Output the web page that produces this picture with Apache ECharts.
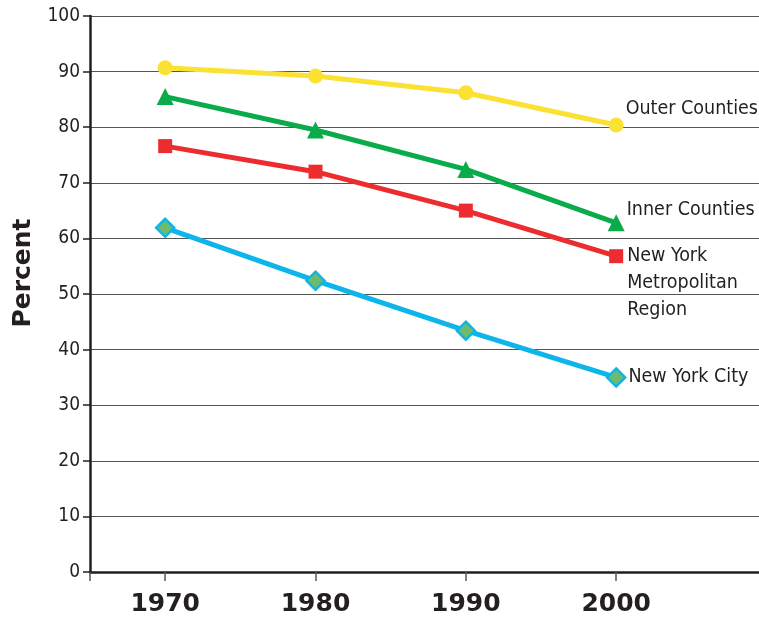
<!DOCTYPE html>
<html><head><meta charset="utf-8">
<script src="https://cdn.jsdelivr.net/npm/echarts@6/dist/echarts.min.js"></script>
<style>html,body{margin:0;padding:0;background:#fff}#c{width:759px;height:617px}</style>
</head><body><div id="c"></div>
<script>
const years = [1970, 1980, 1990, 2000];
const outerCounties = [90.7, 89.2, 86.2, 80.4];
const innerCounties = [85.5, 79.5, 72.4, 62.8];
const metroRegion = [76.6, 72.0, 65.0, 56.8];
const nycValues = [61.9, 52.4, 43.4, 35.0];
const seriesNames = ['Outer Counties', 'Inner Counties', 'New York\nMetropolitan\nRegion', 'New York City'];

const condensed = "'DejaVu Sans Condensed', 'Liberation Sans Narrow', sans-serif";
const labelFont = {fontFamily: condensed, fontSize: 19.5, color: '#231f20'};
function mk(vals, labelOffset) {
  return vals.map((v, i) => {
    const d = {value: [years[i], v]};
    if (i === vals.length - 1) {
      d.label = Object.assign({show: true, position: 'right', distance: 2, offset: labelOffset,
        formatter: '{a}', lineHeight: 27, align: 'left'}, labelFont);
    }
    return d;
  });
}
const chart = echarts.init(document.getElementById('c'));
chart.setOption({
  animation: false,
  grid: {left: 90, top: 16, right: 0, bottom: 44},
  xAxis: {
    type: 'value', min: 1965, max: 2009.5,
    splitLine: {show: false},
    axisLine: {lineStyle: {color: '#231f20', width: 2.5}},
    axisTick: {show: true, customValues: [1965, 1970, 1980, 1990, 2000], length: 9, lineStyle: {color: '#555', width: 1.5}},
    axisLabel: {customValues: years, formatter: v => String(v), margin: 20, fontFamily: 'DejaVu Sans', fontWeight: 'bold', fontSize: 25, color: '#231f20'}
  },
  yAxis: {
    type: 'value', min: 0, max: 100, interval: 10,
    name: 'Percent', nameLocation: 'middle', nameGap: 48, nameRotate: 90,
    nameTextStyle: {fontFamily: 'DejaVu Sans', fontWeight: 'bold', fontSize: 25, color: '#231f20', padding: [0, 0, 0, 42]},
    axisLine: {show: true, lineStyle: {color: '#231f20', width: 2.5}},
    axisTick: {show: true, length: 7, lineStyle: {color: '#231f20', width: 1.5}},
    axisLabel: {margin: 10, fontFamily: condensed, fontSize: 19, color: '#231f20'},
    splitLine: {lineStyle: {color: '#555', width: 1.2}}
  },
  series: [
    {name: seriesNames[0], type: 'line', data: mk(outerCounties, [0, -16]), symbol: 'circle', symbolSize: 15,
      lineStyle: {color: '#fbe232', width: 5}, itemStyle: {color: '#fbe232'}},
    {name: seriesNames[1], type: 'line', data: mk(innerCounties, [0, -13]), symbol: 'triangle', symbolSize: 17,
      lineStyle: {color: '#0aab4a', width: 5}, itemStyle: {color: '#0aab4a'}},
    {name: seriesNames[2], type: 'line', data: mk(metroRegion, [2, 27]), symbol: 'rect', symbolSize: 14,
      lineStyle: {color: '#ec2d2f', width: 5}, itemStyle: {color: '#ec2d2f'}},
    {name: seriesNames[3], type: 'line', data: mk(nycValues, [0, 0]), symbol: 'diamond', symbolSize: 18,
      lineStyle: {color: '#0eb5ea', width: 5}, itemStyle: {color: '#6dbc6e', borderColor: '#0eb5ea', borderWidth: 2.5}}
  ]
});
</script></body></html>
